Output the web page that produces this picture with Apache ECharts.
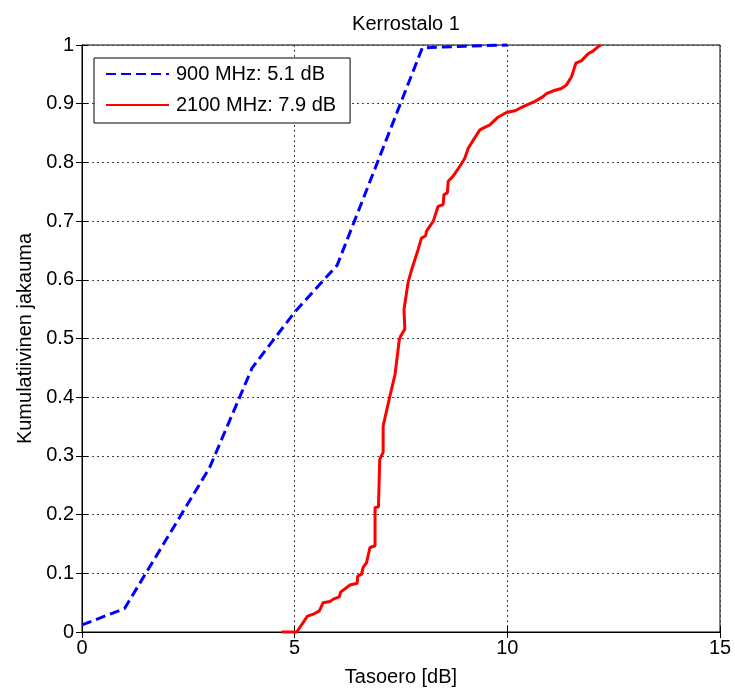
<!DOCTYPE html>
<html>
<head>
<meta charset="utf-8">
<script src="https://cdn.jsdelivr.net/npm/echarts@6/dist/echarts.min.js"></script>
<style>html,body{margin:0;padding:0;background:#fff}#c{width:735px;height:692px}</style>
</head>
<body>
<div id="c"></div>
<script>
const titleText = 'Kerrostalo 1';
const xName = 'Tasoero [dB]';
const yName = 'Kumulatiivinen jakauma';
const name900 = '900 MHz: 5.1 dB';
const name2100 = '2100 MHz: 7.9 dB';

const blueX = [0, 1, 2, 3, 4, 5, 6, 7, 8, 9, 10];
const blueY = [0.012, 0.04, 0.16, 0.28, 0.45, 0.545, 0.625, 0.81, 0.995, 0.998, 1.0];

const redX = [4.69, 5.05, 5.30, 5.46, 5.58, 5.67, 5.83, 5.91, 6.05, 6.08, 6.30, 6.47, 6.48, 6.57, 6.61, 6.69, 6.77, 6.89, 6.89, 6.97, 7.00, 7.08, 7.08, 7.22, 7.36, 7.46, 7.49, 7.59, 7.57, 7.67, 7.75, 7.90, 7.98, 8.08, 8.10, 8.26, 8.37, 8.49, 8.51, 8.59, 8.61, 8.73, 8.88, 9.00, 9.08, 9.20, 9.35, 9.42, 9.59, 9.78, 9.98, 10.18, 10.37, 10.65, 10.84, 10.92, 11.08, 11.27, 11.39, 11.51, 11.61, 11.74, 11.90, 12.02, 12.13, 12.2];
const redY = [0.0, 0.0, 0.027, 0.031, 0.036, 0.05, 0.052, 0.056, 0.06, 0.068, 0.08, 0.083, 0.095, 0.098, 0.11, 0.118, 0.144, 0.147, 0.212, 0.213, 0.294, 0.306, 0.351, 0.396, 0.439, 0.498, 0.504, 0.516, 0.549, 0.597, 0.617, 0.651, 0.671, 0.675, 0.683, 0.70, 0.725, 0.728, 0.745, 0.748, 0.768, 0.777, 0.793, 0.807, 0.824, 0.838, 0.855, 0.858, 0.864, 0.877, 0.885, 0.888, 0.895, 0.904, 0.912, 0.917, 0.922, 0.926, 0.932, 0.946, 0.969, 0.973, 0.985, 0.99, 0.997, 1.0];

const font = 'Liberation Sans, Arial, sans-serif';
const FS = 20;
const chart = echarts.init(document.getElementById('c'));
const tick = {show: true, inside: true, length: 6, lineStyle: {color: '#000', width: 1}};
const grid = {show: true, lineStyle: {color: '#444', type: [2, 3], width: 1}};
chart.setOption({
  animation: false,
  backgroundColor: '#fff',
  textStyle: {fontFamily: font},
  title: {text: titleText, left: 401, top: 9, textAlign: 'center',
    textStyle: {fontFamily: font, fontSize: FS, fontWeight: 'normal', color: '#000'}},
  grid: {left: 82, right: 15, top: 45, bottom: 59, show: true, borderColor: '#000', borderWidth: 1, backgroundColor: '#fff'},
  legend: {
    orient: 'vertical', left: 94, top: 58, padding: [6, 14, 8, 11],
    backgroundColor: '#fff', borderColor: '#000', borderWidth: 1, borderRadius: 0,
    itemWidth: 63, itemHeight: 14, itemGap: 11,
    itemStyle: {opacity: 0},
    textStyle: {fontFamily: font, fontSize: FS, color: '#000', padding: [0, 0, 0, 2]},
    data: [name900, name2100]
  },
  xAxis: [
    {type: 'value', min: 0, max: 15, interval: 5, position: 'bottom',
      name: xName, nameLocation: 'middle', nameGap: 35,
      nameTextStyle: {fontFamily: font, fontSize: FS, color: '#000'},
      axisLine: {show: true, lineStyle: {color: '#000'}}, axisTick: tick,
      axisLabel: {fontFamily: font, fontSize: FS, color: '#000', margin: 6},
      splitLine: grid},
    {type: 'value', min: 0, max: 15, interval: 5, position: 'top',
      axisLine: {show: true, lineStyle: {color: '#000'}}, axisTick: tick,
      axisLabel: {show: false}, splitLine: {show: false}}
  ],
  yAxis: [
    {type: 'value', min: 0, max: 1, interval: 0.1, position: 'left',
      name: yName, nameLocation: 'middle', nameGap: 47, nameRotate: 90,
      nameTextStyle: {fontFamily: font, fontSize: FS, color: '#000'},
      axisLine: {show: true, lineStyle: {color: '#000'}}, axisTick: tick,
      axisLabel: {fontFamily: font, fontSize: FS, color: '#000', margin: 8},
      splitLine: grid},
    {type: 'value', min: 0, max: 1, interval: 0.1, position: 'right',
      axisLine: {show: true, lineStyle: {color: '#000'}}, axisTick: tick,
      axisLabel: {show: false}, splitLine: {show: false}}
  ],
  series: [
    {name: name900, type: 'line', symbol: 'none', clip: false,
      data: blueX.map((x, i) => [x, blueY[i]]),
      lineStyle: {color: '#0000ff', width: 3, type: [10, 5]}, itemStyle: {color: '#0000ff'}},
    {name: name2100, type: 'line', symbol: 'none', clip: false,
      data: redX.map((x, i) => [x, redY[i]]),
      lineStyle: {color: '#ff0000', width: 3}, itemStyle: {color: '#ff0000'}}
  ]
});
</script>
</body>
</html>
